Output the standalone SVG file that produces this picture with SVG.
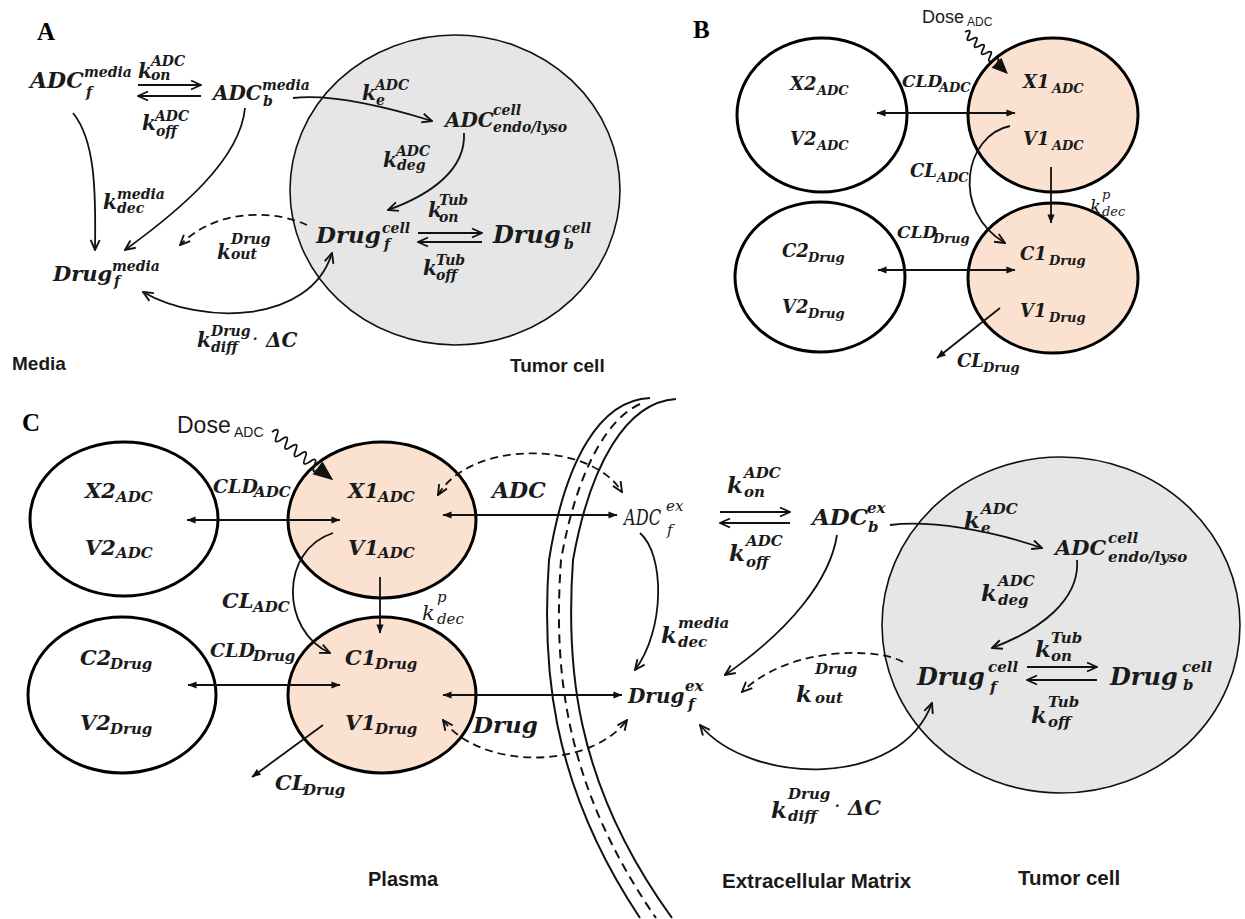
<svg xmlns="http://www.w3.org/2000/svg" width="1245" height="919" viewBox="0 0 1245 919">
<style>
.m{font-family:"DejaVu Serif","Liberation Serif",serif;font-style:italic;font-weight:bold;fill:#1a1a1a}
.n{font-weight:normal}
.a{font-size:22px}.ak{font-size:20px}.as{font-size:14px}
.b{font-size:18px}.bs{font-size:13px}
.c{font-size:21px}.ck{font-size:23px}.cs{font-size:15px}
.l{font-family:"Liberation Sans",Arial,sans-serif;font-weight:bold;fill:#1a1a1a}
.p{font-family:"Liberation Serif","Times New Roman",serif;font-weight:bold;font-size:25px;fill:#000}
.dose{font-family:"Liberation Sans",Arial,sans-serif;fill:#1a1a1a}
.cmp{stroke:#000;stroke-width:3}
.w{fill:#fff}.pe{fill:#fbe1d0}
.cell{fill:#e6e6e6;stroke:#111;stroke-width:1.6}
.ln{fill:none;stroke:#111;stroke-width:1.8}
.ds{stroke-dasharray:8 5}
.mb{fill:none;stroke:#111;stroke-width:2}
.mbd{fill:none;stroke:#111;stroke-width:2;stroke-dasharray:9 6}
</style>
<defs>
<marker id="ov" viewBox="0 0 12 12" refX="11" refY="6" markerWidth="12" markerHeight="12" markerUnits="userSpaceOnUse" orient="auto-start-reverse"><path d="M1,1.5 L11,6 L1,10.5" fill="none" stroke="#111" stroke-width="1.9" stroke-dasharray="none"/></marker>
<marker id="fv" viewBox="0 0 10 10" refX="9.5" refY="5" markerWidth="10" markerHeight="9" markerUnits="userSpaceOnUse" orient="auto-start-reverse"><path d="M0,1 L10,5 L0,9 z" fill="#111"/></marker>
</defs>
<rect width="1245" height="919" fill="#fff"/>

<!-- Panel titles -->
<text class="p" x="37" y="40">A</text>
<text class="p" x="693" y="38">B</text>
<text class="p" x="22" y="431">C</text>

<!-- ===== Panel A nodes ===== -->
<g id="a-tumor-cell"><ellipse class="cell" cx="455" cy="190" rx="165" ry="155"/></g>
<g id="a-adcf-media"><text class="m"><tspan class="a" x="30" y="88">ADC</tspan><tspan class="as" x="84" y="77">media</tspan><tspan class="as" x="86" y="97">f</tspan></text></g>
<g id="a-adcb-media"><text class="m"><tspan class="ak" x="213" y="100">ADC</tspan><tspan class="as" x="262" y="90">media</tspan><tspan class="as" x="263" y="106">b</tspan></text></g>
<g id="a-adc-endo"><text class="m"><tspan class="ak" x="445" y="127">ADC</tspan><tspan class="as" x="493" y="115">cell</tspan><tspan class="as" x="493" y="132">endo/lyso</tspan></text></g>
<g id="a-drugf-cell"><text class="m"><tspan font-size="23" x="316" y="243">Drug</tspan><tspan class="as" x="382" y="233">cell</tspan><tspan class="as" x="384" y="249">f</tspan></text></g>
<g id="a-drugb-cell"><text class="m"><tspan font-size="24" x="493" y="243">Drug</tspan><tspan class="as" x="563" y="233">cell</tspan><tspan class="as" x="564" y="249">b</tspan></text></g>
<g id="a-drugf-media"><text class="m"><tspan font-size="21" x="53" y="281">Drug</tspan><tspan class="as" x="112" y="271">media</tspan><tspan class="as" x="114" y="286">f</tspan></text></g>

<!-- ===== Panel B nodes ===== -->
<g id="b-peri-adc"><ellipse class="cmp w" cx="822" cy="115" rx="85" ry="77"/><text class="m"><tspan class="b" x="790" y="90">X2</tspan><tspan class="bs" x="817" y="95">ADC</tspan></text><text class="m"><tspan class="b" x="790" y="145">V2</tspan><tspan class="bs" x="817" y="150">ADC</tspan></text></g>
<g id="b-cent-adc"><ellipse class="cmp pe" cx="1053" cy="115" rx="85" ry="77"/><text class="m"><tspan class="b" x="1023" y="88">X1</tspan><tspan class="bs" x="1052" y="93">ADC</tspan></text><text class="m"><tspan class="b" x="1023" y="145">V1</tspan><tspan class="bs" x="1052" y="150">ADC</tspan></text></g>
<g id="b-peri-drug"><ellipse class="cmp w" cx="820" cy="277" rx="85" ry="75"/><text class="m"><tspan class="b" x="782" y="257">C2</tspan><tspan class="bs" x="808" y="262">Drug</tspan></text><text class="m"><tspan class="b" x="782" y="313">V2</tspan><tspan class="bs" x="808" y="318">Drug</tspan></text></g>
<g id="b-cent-drug"><ellipse class="cmp pe" cx="1053" cy="278" rx="85" ry="75"/><text class="m"><tspan class="b" x="1020" y="260">C1</tspan><tspan class="bs" x="1049" y="265">Drug</tspan></text><text class="m"><tspan class="b" x="1020" y="317">V1</tspan><tspan class="bs" x="1049" y="322">Drug</tspan></text></g>

<!-- ===== Panel C nodes ===== -->
<g id="c-peri-adc"><ellipse class="cmp w" cx="124" cy="519" rx="94" ry="77"/><text class="m"><tspan class="c" x="85" y="498">X2</tspan><tspan class="cs" x="116" y="502">ADC</tspan></text><text class="m"><tspan class="c" x="85" y="555">V2</tspan><tspan class="cs" x="116" y="558">ADC</tspan></text></g>
<g id="c-cent-adc"><ellipse class="cmp pe" cx="382" cy="520" rx="94" ry="78"/><text class="m"><tspan class="c" x="348" y="498">X1</tspan><tspan class="cs" x="378" y="502">ADC</tspan></text><text class="m"><tspan class="c" x="348" y="555">V1</tspan><tspan class="cs" x="378" y="558">ADC</tspan></text></g>
<g id="c-peri-drug"><ellipse class="cmp w" cx="122" cy="695" rx="94" ry="78"/><text class="m"><tspan class="c" x="80" y="665">C2</tspan><tspan class="cs" x="110" y="669">Drug</tspan></text><text class="m"><tspan class="c" x="80" y="730">V2</tspan><tspan class="cs" x="110" y="734">Drug</tspan></text></g>
<g id="c-cent-drug"><ellipse class="cmp pe" cx="382" cy="695" rx="94" ry="78"/><text class="m"><tspan class="c" x="345" y="665">C1</tspan><tspan class="cs" x="375" y="669">Drug</tspan></text><text class="m"><tspan class="c" x="345" y="730">V1</tspan><tspan class="cs" x="375" y="734">Drug</tspan></text></g>
<g id="c-tumor-cell"><ellipse class="cell" cx="1061" cy="625" rx="179" ry="168"/></g>
<g id="c-membrane">
<path class="mb" d="M650,398 C600,400 565,460 549,560 C542,660 548,780 640,918"/>
<path class="mb" d="M676,399 C626,402 590,465 573,560 C566,660 572,780 672,918"/>
<path class="mbd" d="M640,404 C605,420 576,475 561,560 C554,660 560,780 656,918"/>
</g>
<g id="c-adcf-ex"><text class="m n"><tspan font-size="22" x="624" y="525" textLength="37" lengthAdjust="spacingAndGlyphs">ADC</tspan><tspan class="cs" x="666" y="511">ex</tspan><tspan class="cs" x="667" y="535">f</tspan></text></g>
<g id="c-adcb-ex"><text class="m"><tspan font-size="23" x="812" y="525">ADC</tspan><tspan class="cs" x="867" y="513">ex</tspan><tspan class="cs" x="868" y="532">b</tspan></text></g>
<g id="c-adc-endo"><text class="m"><tspan class="c" x="1055" y="555">ADC</tspan><tspan class="cs" x="1108" y="543">cell</tspan><tspan class="cs" x="1108" y="562">endo/lyso</tspan></text></g>
<g id="c-drugf-ex"><text class="m"><tspan font-size="20" x="628" y="703">Drug</tspan><tspan class="cs" x="685" y="691">ex</tspan><tspan class="cs" x="688" y="709">f</tspan></text></g>
<g id="c-drugf-cell"><text class="m"><tspan font-size="24" x="917" y="685">Drug</tspan><tspan class="cs" x="988" y="672">cell</tspan><tspan class="cs" x="990" y="692">f</tspan></text></g>
<g id="c-drugb-cell"><text class="m"><tspan font-size="24" x="1110" y="685">Drug</tspan><tspan class="cs" x="1182" y="672">cell</tspan><tspan class="cs" x="1183" y="690">b</tspan></text></g>

<!-- ===== Connectors ===== -->
<g id="connectors">
<!-- A -->
<path class="ln" d="M138,85 H201" marker-end="url(#ov)"/>
<path class="ln" d="M201,96 H138" marker-end="url(#ov)"/>
<path class="ln" d="M293,98 C330,94 380,105 432,121" marker-end="url(#ov)"/>
<path class="ln" d="M464,133 C466,170 430,195 388,210" marker-end="url(#ov)"/>
<path class="ln" d="M418,233 H482" marker-end="url(#ov)"/>
<path class="ln" d="M482,242 H418" marker-end="url(#ov)"/>
<path class="ln" d="M73,113 C95,140 96,190 95,250" marker-end="url(#ov)"/>
<path class="ln" d="M245,108 C240,160 180,210 125,250" marker-end="url(#ov)"/>
<path class="ln ds" d="M307,225 C280,212 220,205 180,245" marker-end="url(#ov)"/>
<path class="ln" d="M143,292 C200,325 310,325 332,253" marker-start="url(#ov)" marker-end="url(#ov)"/>
<!-- B -->
<path class="ln" d="M877,113 H1015" marker-start="url(#fv)" marker-end="url(#fv)"/>
<path class="ln" d="M878,270 H1015" marker-start="url(#fv)" marker-end="url(#fv)"/>
<path class="ln" d="M1010,126 C965,135 950,210 1005,243" marker-end="url(#ov)"/>
<path class="ln" d="M1051,167 V223" marker-end="url(#fv)"/>
<path class="ln" d="M1000,308 L937,358" marker-end="url(#fv)"/>
<g transform="translate(965,32) rotate(44.3)"><path class="ln" d="M0,0 q2.5,-8 5,0 t5,0 t5,0 t5,0 t5,0 t5,0 t5,0 t5,0 t5,0"/><path d="M44,-7 L60,0 L44,7 z" fill="#111"/></g>
<!-- C -->
<g transform="translate(272,432) rotate(38.2)"><path class="ln" d="M0,0 q3,-10 6,0 t6,0 t6,0 t6,0 t6,0 t6,0 t6,0 t6,0 t6,0 t6,0"/><path d="M58,-8 L78,0 L58,8 z" fill="#111"/></g>
<path class="ln" d="M187,520 H340" marker-start="url(#fv)" marker-end="url(#fv)"/>
<path class="ln" d="M333,533 C280,550 280,630 330,653" marker-end="url(#ov)"/>
<path class="ln" d="M380,577 V633" marker-end="url(#fv)"/>
<path class="ln" d="M188,685 H340" marker-start="url(#fv)" marker-end="url(#fv)"/>
<path class="ln" d="M323,725 L252,777" marker-end="url(#fv)"/>
<path class="ln ds" d="M438,495 C470,440 590,440 622,492" marker-start="url(#ov)" marker-end="url(#ov)"/>
<path class="ln" d="M443,515 H617" marker-start="url(#fv)" marker-end="url(#fv)"/>
<path class="ln" d="M443,695 H622" marker-start="url(#fv)" marker-end="url(#fv)"/>
<path class="ln ds" d="M443,720 C480,770 590,770 627,720" marker-start="url(#ov)" marker-end="url(#ov)"/>
<path class="ln" d="M720,512 H790" marker-end="url(#ov)"/>
<path class="ln" d="M790,523 H720" marker-end="url(#ov)"/>
<path class="ln" d="M640,533 C665,555 665,630 635,670" marker-end="url(#ov)"/>
<path class="ln" d="M837,535 C830,580 790,630 725,675" marker-end="url(#ov)"/>
<path class="ln" d="M890,525 C930,520 990,530 1042,548" marker-end="url(#ov)"/>
<path class="ln" d="M1077,560 C1080,600 1040,630 992,648" marker-end="url(#ov)"/>
<path class="ln" d="M1027,667 H1097" marker-end="url(#ov)"/>
<path class="ln" d="M1097,680 H1027" marker-end="url(#ov)"/>
<path class="ln ds" d="M903,662 C880,648 790,645 742,692" marker-end="url(#ov)"/>
<path class="ln" d="M700,725 C750,785 900,790 932,703" marker-start="url(#ov)" marker-end="url(#ov)"/>
</g>

<!-- ===== Rate labels ===== -->
<g id="rate-labels">
<!-- A -->
<g id="a-kon-adc"><text class="m"><tspan class="ak" x="138" y="78">k</tspan><tspan class="as" x="151" y="66">ADC</tspan><tspan class="as" x="151" y="80">on</tspan></text></g>
<g id="a-koff-adc"><text class="m"><tspan class="ak" x="142" y="130">k</tspan><tspan class="as" x="155" y="121">ADC</tspan><tspan class="as" x="156" y="136">off</tspan></text></g>
<g id="a-ke-adc"><text class="m"><tspan class="ak" x="362" y="100">k</tspan><tspan class="as" x="375" y="90">ADC</tspan><tspan class="as" x="376" y="105">e</tspan></text></g>
<g id="a-kdeg-adc"><text class="m"><tspan class="ak" x="383" y="167">k</tspan><tspan class="as" x="396" y="156">ADC</tspan><tspan class="as" x="397" y="170">deg</tspan></text></g>
<g id="a-kon-tub"><text class="m"><tspan class="ak" x="428" y="217">k</tspan><tspan class="as" x="439" y="205">Tub</tspan><tspan class="as" x="439" y="222">on</tspan></text></g>
<g id="a-koff-tub"><text class="m"><tspan class="ak" x="423" y="275">k</tspan><tspan class="as" x="436" y="265">Tub</tspan><tspan class="as" x="436" y="280">off</tspan></text></g>
<g id="a-kdec-media"><text class="m"><tspan class="ak" x="103" y="209">k</tspan><tspan class="as" x="117" y="199">media</tspan><tspan class="as" x="117" y="213">dec</tspan></text></g>
<g id="a-kout-drug"><text class="m"><tspan class="ak" x="217" y="259">k</tspan><tspan class="as" x="231" y="244">Drug</tspan><tspan class="as" x="231" y="259">out</tspan></text></g>
<g id="a-kdiff-drug"><text class="m"><tspan class="ak" x="197" y="347">k</tspan><tspan class="as" x="211" y="336">Drug</tspan><tspan class="as" x="211" y="352">diff</tspan><tspan class="ak n" x="252" y="346">·</tspan><tspan class="ak" x="266" y="347">ΔC</tspan></text></g>
<text class="l" font-size="19" x="12" y="370">Media</text>
<text class="l" font-size="19" x="510" y="372">Tumor cell</text>
<!-- B -->
<g id="b-cld-adc"><text class="m"><tspan font-size="17" x="902" y="87">CLD</tspan><tspan class="bs" x="939" y="92">ADC</tspan></text></g>
<g id="b-cl-adc"><text class="m"><tspan class="b" x="910" y="177">CL</tspan><tspan class="bs" x="937" y="182">ADC</tspan></text></g>
<g id="b-cld-drug"><text class="m"><tspan font-size="17" x="897" y="238">CLD</tspan><tspan class="bs" x="933" y="243">Drug</tspan></text></g>
<g id="b-cl-drug"><text class="m"><tspan class="b" x="957" y="367">CL</tspan><tspan class="bs" x="983" y="372">Drug</tspan></text></g>
<g id="b-kdec-p"><text class="m n"><tspan class="b" x="1090" y="213">k</tspan><tspan class="bs" x="1102" y="199">p</tspan><tspan class="bs" x="1102" y="216">dec</tspan></text></g>
<g id="b-dose"><text class="dose"><tspan font-size="18" x="922" y="23">Dose</tspan><tspan font-size="12" x="967" y="26">ADC</tspan></text></g>
<!-- C -->
<g id="c-dose"><text class="dose"><tspan font-size="23" x="177" y="433">Dose</tspan><tspan font-size="14" x="234" y="437">ADC</tspan></text></g>
<g id="c-cld-adc"><text class="m"><tspan font-size="19" x="213" y="493">CLD</tspan><tspan class="cs" x="254" y="497">ADC</tspan></text></g>
<g id="c-cl-adc"><text class="m"><tspan class="c" x="222" y="608">CL</tspan><tspan class="cs" x="253" y="612">ADC</tspan></text></g>
<g id="c-cld-drug"><text class="m"><tspan font-size="19" x="210" y="657">CLD</tspan><tspan class="cs" x="253" y="661">Drug</tspan></text></g>
<g id="c-cl-drug"><text class="m"><tspan class="c" x="275" y="790">CL</tspan><tspan class="cs" x="303" y="795">Drug</tspan></text></g>
<g id="c-kdec-p"><text class="m n"><tspan class="c" x="422" y="620">k</tspan><tspan class="cs" x="437" y="602">p</tspan><tspan class="cs" x="437" y="624">dec</tspan></text></g>
<g id="c-adc-flux"><text class="m" font-size="22" x="492" y="498">ADC</text></g>
<g id="c-drug-flux"><text class="m" font-size="23" x="473" y="733">Drug</text></g>
<g id="c-kon-adc"><text class="m"><tspan class="ck" x="727" y="493">k</tspan><tspan class="cs" x="744" y="478">ADC</tspan><tspan class="cs" x="744" y="497">on</tspan></text></g>
<g id="c-koff-adc"><text class="m"><tspan class="ck" x="729" y="561">k</tspan><tspan class="cs" x="746" y="546">ADC</tspan><tspan class="cs" x="746" y="567">off</tspan></text></g>
<g id="c-kdec-media"><text class="m"><tspan class="ck" x="661" y="643">k</tspan><tspan class="cs" x="678" y="628">media</tspan><tspan class="cs" x="678" y="647">dec</tspan></text></g>
<g id="c-ke-adc"><text class="m"><tspan class="ck" x="964" y="528">k</tspan><tspan class="cs" x="981" y="514">ADC</tspan><tspan class="cs" x="981" y="533">e</tspan></text></g>
<g id="c-kdeg-adc"><text class="m"><tspan class="ck" x="981" y="601">k</tspan><tspan class="cs" x="998" y="586">ADC</tspan><tspan class="cs" x="998" y="605">deg</tspan></text></g>
<g id="c-kon-tub"><text class="m"><tspan class="ck" x="1035" y="657">k</tspan><tspan class="cs" x="1051" y="643">Tub</tspan><tspan class="cs" x="1051" y="661">on</tspan></text></g>
<g id="c-koff-tub"><text class="m"><tspan class="ck" x="1031" y="723">k</tspan><tspan class="cs" x="1048" y="707">Tub</tspan><tspan class="cs" x="1048" y="727">off</tspan></text></g>
<g id="c-kout-drug"><text class="m"><tspan class="ck" x="796" y="702">k</tspan><tspan class="cs" x="815" y="674">Drug</tspan><tspan class="cs" x="815" y="703">out</tspan></text></g>
<g id="c-kdiff-drug"><text class="m"><tspan class="ck" x="771" y="818">k</tspan><tspan class="cs" x="788" y="799">Drug</tspan><tspan class="cs" x="788" y="821">diff</tspan><tspan class="c n" x="834" y="813">·</tspan><tspan class="c" x="848" y="815">ΔC</tspan></text></g>
<text class="l" font-size="20" x="368" y="886">Plasma</text>
<text class="l" font-size="20.5" x="722" y="888">Extracellular Matrix</text>
<text class="l" font-size="20.5" x="1018" y="885">Tumor cell</text>
</g>
</svg>
